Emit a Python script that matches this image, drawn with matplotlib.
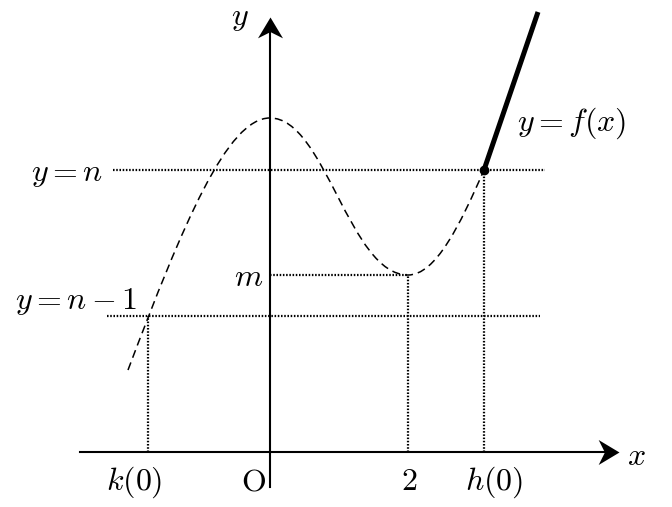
import matplotlib.pyplot as plt
from matplotlib.path import Path
from matplotlib.patches import PathPatch

plt.rcParams['mathtext.fontset'] = 'cm'
plt.rcParams['font.family'] = ['DejaVu Serif']

# values (1 unit = 69 px, origin at the axes crossing)
x_k0 = -1.768
x_two = 2.0
x_h0 = 3.101
y_n = 4.087
y_n1 = 1.971
y_m = 2.565

# dashed curve: three cubic bezier pieces (start -> max -> min -> junction)
curve_x = [-2.058, -1.258, -0.62, 0.0, 0.8, 1.15, x_two, 2.4, 2.751, x_h0]
curve_y = [1.188, 3.308, 4.841, 4.841, 4.841, y_m, y_m, y_m, 3.282, y_n]

# solid part, y = f(x)
solid_x = [x_h0, 3.884]
solid_y = [y_n, 6.377]

# guide lines: (x0, x1, y) horizontal, (x, y0, y1) vertical
hlines = [(-2.275, 3.986, y_n), (-2.362, 3.913, y_n1), (0.0, x_two, y_m)]
vlines = [(x_k0, 0.0, y_n1), (x_two, 0.0, y_m), (x_h0, 0.0, y_n)]

xtick_pos = [x_k0 - 0.2, -0.246, x_two + 0.014, x_h0 + 0.145]
xtick_lab = [r'$k(0)$', r'$\mathrm{O}$', r'$2$', r'$h(0)$']

x_axis = (-2.754, 5.058)
y_axis = (-0.507, 6.304)

fig = plt.figure(figsize=(6.72, 5.07), dpi=100)
ax = fig.add_axes([0, 0, 1, 1])
ax.set_xlim(-270 / 69, 402 / 69)
ax.set_ylim(-55 / 69, 452 / 69)
ax.set_aspect('equal')
ax.axis('off')

dots = (0, (0.7, 0.75))
for x0, x1, y in hlines:
    ax.plot([x0, x1], [y, y], color='k', lw=1.6, linestyle=dots)
for x, y0, y1 in vlines:
    ax.plot([x, x], [y0, y1], color='k', lw=1.6, linestyle=dots)

# axes, with stealth-like arrow heads (tip at marker origin)
head_r = Path([(0, 0), (-1, 0.6), (-0.7, 0), (-1, -0.6), (0, 0)],
              [Path.MOVETO, Path.LINETO, Path.LINETO, Path.LINETO, Path.CLOSEPOLY])
head_u = Path([(0, 0), (0.6, -1), (0, -0.7), (-0.6, -1), (0, 0)],
              [Path.MOVETO, Path.LINETO, Path.LINETO, Path.LINETO, Path.CLOSEPOLY])
ax.plot([x_axis[0], x_axis[1] - 0.12], [0, 0], color='k', lw=1.5)
ax.plot([0, 0], [y_axis[0], y_axis[1] - 0.12], color='k', lw=1.5)
ax.plot([x_axis[1]], [0], marker=head_r, markersize=30, color='k', mew=0)
ax.plot([0], [y_axis[1]], marker=head_u, markersize=30, color='k', mew=0)

codes = [Path.MOVETO] + [Path.CURVE4] * 9
path = Path(list(zip(curve_x, curve_y)), codes)
ax.add_patch(PathPatch(path, fill=False, color='k', lw=1.1,
                       linestyle=(0, (5.3, 3.3))))

ax.plot(solid_x, solid_y, color='k', lw=3.6, solid_capstyle='butt')
ax.plot([x_h0], [y_n], 'o', color='k', markersize=6)

fs = 23
for xp, lab in zip(xtick_pos, xtick_lab):
    ax.text(xp, -0.551, lab, fontsize=fs, ha='center', va='baseline')

ax.text(5.174, -0.188, r'$x$', fontsize=fs, ha='left', va='baseline')
ax.text(-0.435, 6.188, r'$y$', fontsize=fs, ha='center', va='baseline')
ax.text(-2.42, 3.928, r'$y=n$', fontsize=fs, ha='right', va='baseline')
ax.text(-1.928, 2.072, r'$y=n-1$', fontsize=fs, ha='right', va='baseline')
ax.text(-0.101, 2.406, r'$m$', fontsize=fs, ha='right', va='baseline')
ax.text(3.58, 4.652, r'$y=f(x)$', fontsize=fs, ha='left', va='baseline')

fig.savefig('out.png', dpi=100)
